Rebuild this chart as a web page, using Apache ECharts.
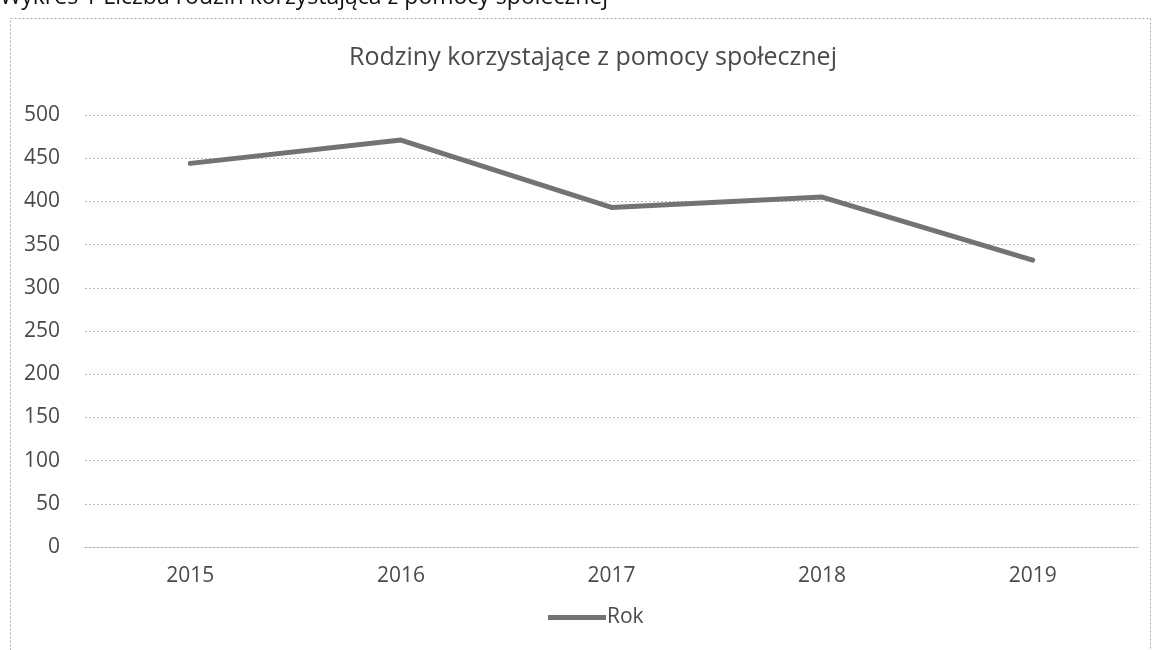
<!DOCTYPE html>
<html><head><meta charset="utf-8">
<script src="https://cdn.jsdelivr.net/npm/echarts@6/dist/echarts.min.js"></script>
<style>html,body{margin:0;padding:0;background:#fff}#c{width:1154px;height:650px}</style>
</head><body><div id="c"></div>
<script>
const categories = ['2015', '2016', '2017', '2018', '2019'];
const values = [444, 471, 393, 405, 332];
const seriesName = 'Rok';
const chartTitle = 'Rodziny korzystające z pomocy społecznej';
const caption = 'Wykres 1 Liczba rodzin korzystająca z pomocy społecznej';
const FONT = '"Open Sans", sans-serif';
const chart = echarts.init(document.getElementById('c'));
chart.setOption({
  animation: false,
  backgroundColor: '#fff',
  graphic: [
    { type: 'rect', shape: { x: 10.5, y: 18.5, width: 1140, height: 660 }, style: { fill: 'none', stroke: '#aaa', lineWidth: 1, lineDash: [2, 2] } },
    { type: 'text', left: 0, top: -14, style: { text: caption, font: '23px ' + FONT, fill: '#111' } }
  ],
  title: { text: chartTitle, left: 588, top: 40, textAlign: 'center', textStyle: { fontFamily: FONT, fontSize: 25, fontWeight: 'normal', color: '#4a4a4a' } },
  legend: { bottom: 17, left: 543, itemWidth: 58, itemHeight: 5, itemGap: 4, icon: 'rect', textStyle: { fontFamily: FONT, fontSize: 21, color: '#4a4a4a', padding: [0, 0, 0, -4] }, data: [seriesName] },
  grid: { left: 85, right: 16, top: 115, bottom: 103, containLabel: false },
  xAxis: { type: 'category', data: categories, boundaryGap: true,
    axisLine: { lineStyle: { color: '#aaa', type: [2, 2] } }, axisTick: { show: false },
    axisLabel: { fontFamily: FONT, fontSize: 21, color: '#4a4a4a', margin: 19 } },
  yAxis: { type: 'value', min: 0, max: 500, interval: 50,
    axisLine: { show: false }, axisTick: { show: false },
    axisLabel: { fontFamily: FONT, fontSize: 21, color: '#4a4a4a', margin: 25 },
    splitLine: { lineStyle: { color: '#bbb', type: [2, 2] } } },
  series: [{ name: seriesName, type: 'line', data: values, symbol: 'none',
    lineStyle: { color: '#737373', width: 5, cap: 'round', join: 'round' }, itemStyle: { color: '#737373' } }]
});
</script></body></html>
